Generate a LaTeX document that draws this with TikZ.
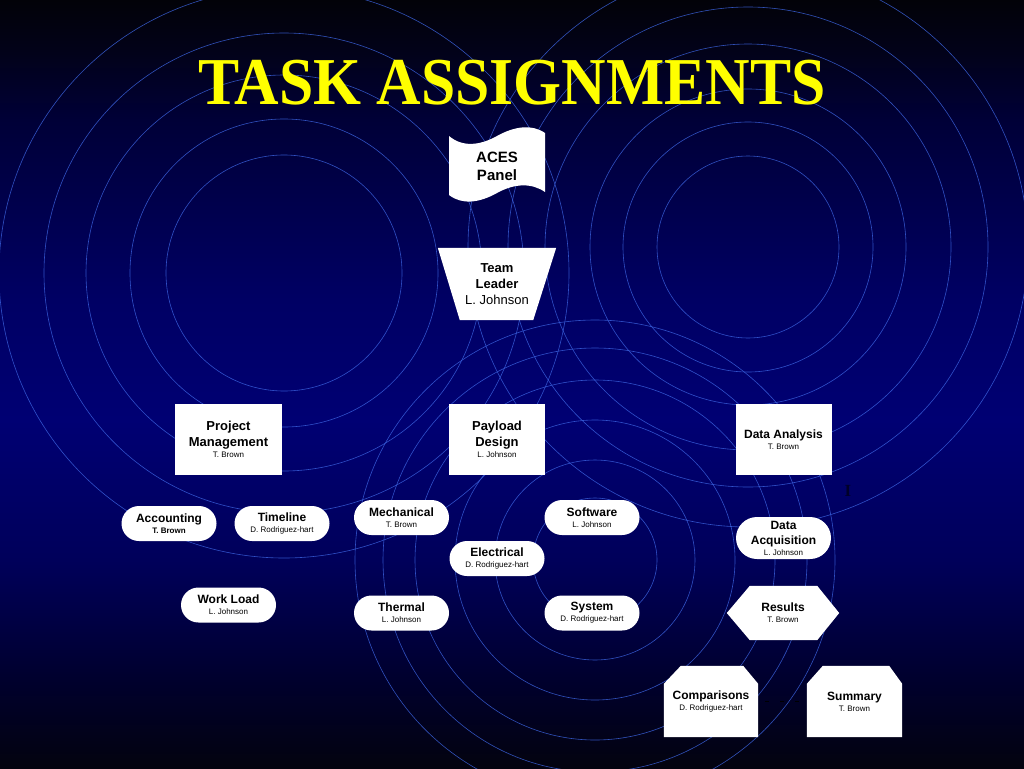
\documentclass[tikz,border=0pt]{standalone}
\usepackage{fontspec}
\setmainfont{Liberation Sans}
\newfontfamily\titlefont{Liberation Serif}
\usetikzlibrary{shapes.misc}
\pgfdeclarelayer{back}
\pgfdeclarelayer{bg}
\pgfsetlayers{back,bg,main}
\definecolor{bgA}{RGB}{3,3,15}
\definecolor{bgB}{RGB}{0,0,45}
\definecolor{bgC}{RGB}{0,0,90}
\definecolor{bgD}{RGB}{0,0,115}
\definecolor{bgE}{RGB}{0,0,100}
\definecolor{bgF}{RGB}{0,0,55}
\definecolor{bgG}{RGB}{2,2,25}
\definecolor{bgH}{RGB}{2,2,8}
\definecolor{ringc}{RGB}{60,100,225}
\definecolor{titley}{RGB}{255,255,0}
\definecolor{darkmark}{RGB}{0,0,40}
\pgfdeclareverticalshading{bgsh}{100bp}{color(0bp)=(bgA); color(25bp)=(bgA); color(30.7bp)=(bgB); color(38.5bp)=(bgC); color(47.7bp)=(bgD); color(55.5bp)=(bgE); color(67.2bp)=(bgF); color(71.7bp)=(bgG); color(75bp)=(bgH); color(100bp)=(bgH)}
\newcommand\sm[1]{{\mdseries\fontsize{8}{9}\selectfont #1}}
\newcommand\smb[1]{{\fontsize{8}{9}\selectfont #1}}
\tikzset{
  ring/.style={draw=ringc, line width=0.6pt, opacity=0.8},
  box/.style={fill=white, inner sep=0pt, align=center, text=black, font=\bfseries\fontsize{12}{14}\selectfont},
  txt/.style={inner sep=0pt, align=center, text=black, font=\bfseries\fontsize{12}{14}\selectfont},
  pill/.style={box, rounded rectangle, minimum width=95pt, minimum height=35pt},
  sqbox/.style={box, rectangle, minimum height=71pt, font=\bfseries\fontsize{13}{16}\selectfont},
  shapefill/.style={fill=white},
  hidden/.style={draw=black, line width=1.5pt, dash pattern=on 4pt off 11pt, dash phase=-7pt}
}
\begin{document}
\begin{tikzpicture}[x=1pt, y=-1pt]
\useasboundingbox (0,0) rectangle (1024,768);
\begin{pgfonlayer}{back}
  \shade[shading=bgsh] (0,0) rectangle (1024,768);
  \begin{scope}
    \clip (0,0) rectangle (1024,768);
    \foreach \r in {118,154,198,240,285}
      \draw[ring] (284,273) circle[radius=\r pt];
    \foreach \r in {91,125,158,203,240,280}
      \draw[ring] (748,247) circle[radius=\r pt];
    \foreach \r in {62,100,140,180,212,240}
      \draw[ring] (595,560) circle[radius=\r pt];
  \end{scope}
\end{pgfonlayer}

% title
\node[text=titley, inner sep=0pt, font=\titlefont\bfseries\fontsize{67}{67}\selectfont] (title) at (512,82.5) {\scalebox{0.92}[1]{TASK ASSIGNMENTS}};

% ACES panel (punched tape)
\node[txt, font=\bfseries\fontsize{15}{18}\selectfont] (aces) at (497,166) {ACES\\Panel};
% Team leader (trapezium)
\node[txt, font=\bfseries\fontsize{13}{16}\selectfont, minimum width=118pt, minimum height=72pt] (lead) at (497,284) {Team\\Leader\\{\mdseries L. Johnson}};

% second level
\node[sqbox, minimum width=107pt] (pm) at (228.5,439.5) {Project\\Management\\[-5pt]\sm{T. Brown}};
\node[sqbox, minimum width=96pt] (pay) at (497,439.5) {Payload\\Design\\[-5pt]\sm{L. Johnson}};
\node[sqbox, minimum width=96pt, font=\bfseries\fontsize{12}{14}\selectfont] (da) at (783.5,439.5) {Data Analysis\\[-3pt]\sm{T. Brown}};

% project management children
\node[pill] (acc) at (169,523.5) {Accounting\\[-3pt]\smb{T. Brown}};
\node[pill] (time) at (282,523.5) {Timeline\\[-3pt]\sm{D. Rodriguez-hart}};
\node[pill] (work) at (228.5,605) {Work Load\\[-3pt]\sm{L. Johnson}};

% payload children
\node[pill] (mech) at (401.5,517.5) {Mechanical\\[-3pt]\sm{T. Brown}};
\node[pill] (soft) at (592,517.5) {Software\\[-3pt]\sm{L. Johnson}};
\node[pill] (elec) at (497,558.5) {Electrical\\[-3pt]\sm{D. Rodriguez-hart}};
\node[pill] (therm) at (401.5,613) {Thermal\\[-3pt]\sm{L. Johnson}};
\node[pill] (sys) at (592,613) {System\\[-3pt]\sm{D. Rodriguez-hart}};

% data analysis children
\node[pill, minimum height=42pt, font=\bfseries\fontsize{12}{15}\selectfont] (dacq) at (783.5,538) {Data\\Acquisition\\[-4pt]\sm{L. Johnson}};
\node[txt, minimum width=112pt, minimum height=54pt] (res) at (783,613) {Results\\[-3pt]\sm{T. Brown}};
\node[txt, minimum width=94pt, minimum height=71pt] (comp) at (711,701.5) {Comparisons\\[-3pt]\sm{D. Rodriguez-hart}};
\node[txt, minimum width=95pt, minimum height=71pt] (summ) at (854.5,701.5) {Summary\\[-3pt]\sm{T. Brown}};

% faint mark
\node[text=darkmark, inner sep=0pt, font=\titlefont\bfseries\fontsize{17}{17}\selectfont] (mark) at (848,491) {I};

% custom shapes
\begin{pgfonlayer}{bg}
  \fill[shapefill] (449,136) .. controls (462,147) and (479,146) .. (497,136)
     .. controls (515,126) and (532,124) .. (545,133)
     -- (545,192) .. controls (532,183) and (515,183) .. (497,193)
     .. controls (479,203) and (462,205) .. (449,195) -- cycle;
  \fill[shapefill] (lead.north west) -- (lead.north east) -- ([xshift=-23pt]lead.south east) -- ([xshift=22pt]lead.south west) -- cycle;
  \fill[shapefill] (res.west) -- ([xshift=23pt]res.north west) -- ([xshift=-22pt]res.north east) -- (res.east) -- ([xshift=-22pt]res.south east) -- ([xshift=23pt]res.south west) -- cycle;
  \fill[shapefill] (comp.south west) -- ([yshift=-18pt]comp.north west) -- ([xshift=17pt]comp.north west) -- ([xshift=-15pt]comp.north east) -- ([yshift=-18pt]comp.north east) -- (comp.south east) -- cycle;
  \fill[shapefill] (summ.south west) -- ([yshift=-18pt]summ.north west) -- ([xshift=16pt]summ.north west) -- ([xshift=-13pt]summ.north east) -- ([yshift=-18pt]summ.north east) -- (summ.south east) -- cycle;
\end{pgfonlayer}

% nearly invisible connector
\draw[hidden] (comp) -- (summ);
\end{tikzpicture}
\end{document}
